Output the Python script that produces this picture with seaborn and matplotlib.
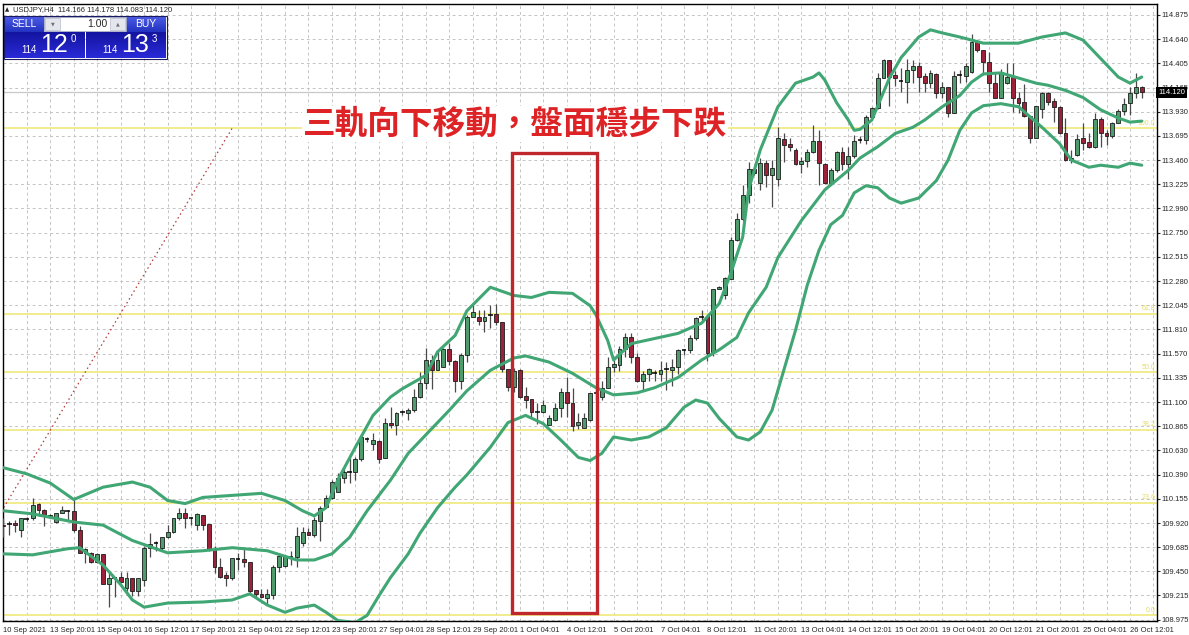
import matplotlib
matplotlib.use("Agg")
import matplotlib.pyplot as plt
import matplotlib.font_manager as fm
from matplotlib.patches import Rectangle
from matplotlib.colors import to_rgb
import seaborn as sns
import numpy as np

# USDJPY H4 candles (bar 0 = 10 Sep 2021)
opens = [109.90, 109.91, 109.92, 109.85, 109.96, 109.97, 110.11, 110.05, 109.99, 109.93,
         110.02, 110.04, 110.04, 109.85, 109.63, 109.63, 109.54, 109.62, 109.33, 109.38,
         109.39, 109.29, 109.38, 109.26, 109.36, 109.68, 109.73, 109.68, 109.78, 109.83,
         109.97, 110.02, 109.97, 109.90, 110.00, 109.91, 109.66, 109.49, 109.41, 109.38,
         109.57, 109.57, 109.54, 109.27, 109.23, 109.19, 109.22, 109.49, 109.50, 109.59,
         109.59, 109.73, 109.83, 109.80, 109.94, 110.08, 110.16, 110.22, 110.36, 110.42,
         110.42, 110.54, 110.74, 110.69, 110.72, 110.55, 110.90, 110.88, 111.00, 110.99,
         111.02, 111.15, 111.29, 111.51, 111.41, 111.44, 111.62, 111.50, 111.31, 111.56,
         111.93, 111.93, 111.89, 111.95, 111.96, 111.88, 111.42, 111.25, 111.41, 111.16,
         111.13, 111.00, 111.00, 110.88, 110.93, 111.04, 111.20, 111.09, 110.88, 110.85,
         110.93, 111.19, 111.15, 111.24, 111.44, 111.46, 111.62, 111.73, 111.54, 111.31,
         111.37, 111.38, 111.37, 111.42, 111.41, 111.44, 111.61, 111.61, 111.72, 111.93,
         111.94, 111.59, 112.20, 112.14, 112.30, 112.68, 112.89, 113.12, 113.37, 113.24,
         113.43, 113.31, 113.28, 113.67, 113.62, 113.56, 113.42, 113.45, 113.54, 113.65,
         113.42, 113.24, 113.36, 113.54, 113.42, 113.50, 113.66, 113.66, 113.88, 113.97,
         114.26, 114.44, 114.29, 114.23, 114.22, 114.34, 114.38, 114.28, 114.21, 114.30,
         114.11, 114.17, 113.92, 114.29, 114.28, 114.32, 114.61, 114.53, 114.42, 114.21,
         114.07, 114.21, 114.27, 114.07, 114.03, 113.89, 113.68, 113.96, 114.11, 114.04,
         113.98, 113.72, 113.46, 113.51, 113.68, 113.64, 113.59, 113.86, 113.72, 113.69,
         113.82, 113.94, 114.02, 114.11, 114.17]
highs = [109.97, 109.94, 109.95, 109.97, 109.98, 110.16, 110.12, 110.06, 110.01, 110.02,
         110.09, 110.05, 110.15, 109.89, 109.68, 109.64, 109.63, 109.62, 109.44, 109.39,
         109.44, 109.44, 109.38, 109.38, 109.70, 109.82, 109.75, 109.78, 109.90, 109.97,
         110.07, 110.07, 109.98, 110.02, 110.00, 109.91, 109.70, 109.58, 109.44, 109.58,
         109.63, 109.68, 109.54, 109.27, 109.28, 109.28, 109.51, 109.61, 109.61, 109.65,
         109.88, 109.88, 109.87, 109.98, 110.09, 110.19, 110.34, 110.41, 110.45, 110.55,
         110.56, 110.78, 110.76, 110.80, 110.73, 110.94, 111.05, 111.00, 111.02, 111.04,
         111.23, 111.39, 111.63, 111.56, 111.61, 111.63, 111.68, 111.51, 111.58, 111.95,
         112.05, 112.00, 112.00, 112.05, 112.06, 111.88, 111.42, 111.43, 111.42, 111.25,
         111.13, 111.09, 111.12, 110.97, 111.09, 111.24, 111.34, 111.24, 110.99, 110.99,
         111.19, 111.22, 111.31, 111.54, 111.51, 111.65, 111.77, 111.77, 111.58, 111.40,
         111.43, 111.41, 111.50, 111.49, 111.52, 111.62, 111.62, 111.75, 111.93, 112.00,
         111.94, 112.20, 112.23, 112.32, 112.71, 112.94, 113.22, 113.44, 113.39, 113.48,
         113.46, 113.46, 113.78, 113.72, 113.68, 113.58, 113.49, 113.57, 113.80, 113.75,
         113.43, 113.38, 113.55, 113.59, 113.59, 113.70, 113.69, 113.90, 113.98, 114.31,
         114.45, 114.44, 114.33, 114.36, 114.45, 114.44, 114.42, 114.31, 114.34, 114.31,
         114.22, 114.17, 114.33, 114.34, 114.41, 114.69, 114.63, 114.53, 114.51, 114.32,
         114.35, 114.41, 114.41, 114.12, 114.20, 113.89, 113.99, 114.12, 114.12, 114.07,
         113.99, 113.87, 113.56, 113.71, 113.82, 113.72, 113.92, 113.88, 113.75, 113.83,
         113.96, 114.07, 114.17, 114.31, 114.18]
lows = [109.78, 109.80, 109.83, 109.78, 109.94, 109.95, 109.99, 109.89, 109.97, 109.92,
        110.02, 109.94, 109.83, 109.63, 109.53, 109.53, 109.53, 109.33, 109.10, 109.20,
        109.35, 109.26, 109.21, 109.21, 109.31, 109.59, 109.65, 109.65, 109.77, 109.82,
        109.95, 109.87, 109.90, 109.85, 109.85, 109.65, 109.43, 109.38, 109.31, 109.36,
        109.46, 109.49, 109.24, 109.19, 109.19, 109.12, 109.18, 109.44, 109.49, 109.51,
        109.49, 109.70, 109.80, 109.78, 109.75, 110.07, 110.15, 110.22, 110.31, 110.31,
        110.34, 110.53, 110.71, 110.63, 110.51, 110.55, 110.85, 110.78, 110.97, 110.93,
        111.00, 111.14, 111.23, 111.23, 111.41, 111.44, 111.46, 111.20, 111.23, 111.49,
        111.93, 111.85, 111.78, 111.82, 111.85, 111.39, 111.21, 111.20, 111.14, 111.04,
        110.95, 110.89, 110.99, 110.88, 110.92, 110.95, 110.95, 110.82, 110.84, 110.85,
        110.92, 111.12, 111.12, 111.24, 111.39, 111.40, 111.54, 111.48, 111.30, 111.22,
        111.31, 111.31, 111.31, 111.22, 111.26, 111.37, 111.56, 111.58, 111.71, 111.90,
        111.50, 111.55, 112.20, 112.11, 112.30, 112.67, 112.87, 113.04, 113.31, 113.17,
        113.20, 113.00, 113.21, 113.44, 113.55, 113.41, 113.33, 113.39, 113.53, 113.22,
        113.23, 113.22, 113.34, 113.36, 113.28, 113.48, 113.63, 113.62, 113.86, 113.96,
        114.26, 113.99, 114.18, 114.12, 114.02, 114.21, 114.12, 114.12, 114.16, 114.07,
        114.07, 113.88, 113.92, 114.21, 114.22, 114.31, 114.51, 114.29, 114.12, 114.07,
        114.07, 114.20, 113.93, 113.92, 113.88, 113.63, 113.68, 113.87, 114.00, 113.83,
        113.71, 113.45, 113.43, 113.50, 113.56, 113.58, 113.58, 113.59, 113.61, 113.68,
        113.82, 113.90, 113.90, 114.07, 114.07]
closes = [109.89, 109.91, 109.90, 109.97, 109.96, 110.10, 110.05, 110.00, 109.99, 110.02,
          110.05, 110.04, 109.85, 109.63, 109.67, 109.54, 109.62, 109.33, 109.38, 109.38,
          109.35, 109.38, 109.26, 109.38, 109.68, 109.72, 109.73, 109.78, 109.83, 109.97,
          110.02, 109.97, 109.97, 110.01, 109.90, 109.66, 109.49, 109.39, 109.38, 109.58,
          109.57, 109.54, 109.26, 109.23, 109.20, 109.23, 109.49, 109.60, 109.60, 109.59,
          109.79, 109.83, 109.80, 109.95, 110.07, 110.16, 110.32, 110.36, 110.42, 110.42,
          110.54, 110.76, 110.74, 110.73, 110.54, 110.90, 110.88, 110.99, 111.00, 111.02,
          111.15, 111.29, 111.51, 111.41, 111.51, 111.62, 111.50, 111.31, 111.56, 111.93,
          111.98, 111.89, 111.93, 111.95, 111.88, 111.42, 111.25, 111.40, 111.15, 111.12,
          111.00, 111.00, 111.07, 110.94, 111.04, 111.20, 111.09, 110.87, 110.91, 110.94,
          111.19, 111.20, 111.24, 111.44, 111.47, 111.62, 111.73, 111.54, 111.31, 111.37,
          111.42, 111.38, 111.41, 111.42, 111.44, 111.61, 111.61, 111.72, 111.92, 111.93,
          111.58, 112.20, 112.22, 112.31, 112.68, 112.89, 113.12, 113.37, 113.33, 113.43,
          113.31, 113.38, 113.68, 113.61, 113.59, 113.42, 113.45, 113.54, 113.65, 113.43,
          113.24, 113.36, 113.54, 113.42, 113.50, 113.65, 113.66, 113.88, 113.97, 114.26,
          114.44, 114.27, 114.26, 114.23, 114.34, 114.38, 114.27, 114.21, 114.31, 114.11,
          114.17, 113.92, 114.28, 114.29, 114.38, 114.61, 114.53, 114.42, 114.21, 114.07,
          114.32, 114.27, 114.07, 114.02, 113.89, 113.68, 113.99, 114.11, 114.03, 113.98,
          113.72, 113.46, 113.48, 113.67, 113.63, 113.59, 113.86, 113.72, 113.69, 113.82,
          113.94, 114.01, 114.11, 114.17, 114.12]

# Bollinger bands, read at bar positions
upper_idx = [0, 4, 8, 12, 17, 22, 25, 28, 31, 34, 39, 44, 48, 51, 53, 55, 57, 60, 63, 66,
             68, 72, 74, 77, 79, 83, 87, 90, 93, 97, 100, 101, 103, 104, 107, 111, 115, 119, 122, 124,
             126, 127, 129, 132, 135, 138, 139, 140, 142, 144, 145, 146, 148, 151, 153, 156, 158, 160,
             163, 167, 173, 177, 181, 184, 187, 190, 192, 193, 194]
upper_val = [110.46, 110.40, 110.31, 110.15, 110.27, 110.32, 110.27, 110.14, 110.11, 110.17,
             110.19, 110.21, 110.14, 110.04, 109.99, 110.07, 110.34, 110.66, 110.97, 111.15,
             111.23, 111.36, 111.59, 111.75, 111.99, 112.22, 112.14, 112.12, 112.17, 112.16,
             112.04, 111.95, 111.70, 111.51, 111.67, 111.72, 111.77, 111.87, 112.06, 112.36,
             112.71, 113.17, 113.56, 113.98, 114.21, 114.27, 114.31, 114.24, 114.02, 113.85,
             113.75, 113.76, 113.85, 114.26, 114.46, 114.66, 114.73, 114.70, 114.66, 114.60,
             114.60, 114.66, 114.70, 114.63, 114.45, 114.27, 114.21, 114.24, 114.27]
mid_idx = [0, 5, 12, 17, 22, 28, 34, 39, 45, 50, 53, 56, 59, 62, 66, 69, 73, 76, 79, 83,
           87, 89, 93, 97, 101, 104, 108, 111, 115, 119, 122, 125, 127, 130, 132, 136, 140, 144, 146, 149,
           152, 155, 157, 160, 163, 165, 167, 170, 173, 176, 178, 181, 184, 187, 190, 192, 194]
mid_val = [110.04, 110.01, 109.93, 109.90, 109.75, 109.63, 109.65, 109.68, 109.65, 109.56,
           109.56, 109.62, 109.78, 110.04, 110.34, 110.60, 110.84, 111.02, 111.21, 111.41,
           111.53, 111.55, 111.49, 111.38, 111.24, 111.17, 111.19, 111.24, 111.34, 111.51,
           111.61, 111.73, 111.97, 112.22, 112.51, 112.87, 113.17, 113.36, 113.48, 113.59,
           113.72, 113.78, 113.85, 113.98, 114.09, 114.22, 114.30, 114.31, 114.26, 114.21,
           114.19, 114.14, 114.07, 113.95, 113.87, 113.83, 113.84]
lower_idx = [0, 5, 11, 13, 17, 20, 22, 24, 28, 34, 39, 42, 45, 48, 50, 53, 55, 57, 60, 62,
             64, 66, 69, 71, 74, 77, 79, 83, 86, 89, 92, 95, 98, 100, 102, 104, 107, 110, 113, 116,
             118, 120, 122, 125, 127, 129, 131, 133, 135, 137, 139, 141, 143, 145, 147, 149, 151, 153,
             156, 159, 161, 163, 165, 167, 170, 173, 177, 180, 182, 185, 187, 190, 192, 194]
lower_val = [109.62, 109.61, 109.67, 109.68, 109.51, 109.32, 109.17, 109.10, 109.14, 109.15,
             109.17, 109.23, 109.12, 109.05, 109.09, 109.12, 109.05, 108.97, 108.95, 109.02,
             109.21, 109.39, 109.62, 109.82, 110.07, 110.27, 110.39, 110.66, 110.90, 110.97,
             110.89, 110.73, 110.56, 110.53, 110.60, 110.76, 110.73, 110.76, 110.85, 111.05,
             111.12, 111.09, 110.94, 110.76, 110.73, 110.81, 111.02, 111.41, 111.80, 112.24,
             112.58, 112.83, 112.92, 113.14, 113.21, 113.19, 113.09, 113.04, 113.09, 113.26,
             113.46, 113.75, 113.92, 113.99, 114.01, 113.98, 113.78, 113.62, 113.46, 113.39,
             113.41, 113.39, 113.43, 113.41]

# Fibonacci retracement
fib_levels = [109.02, 110.12, 110.83, 111.39, 111.96, 113.77]
fib_names = ["0.0", "23.6", "38.2", "50.0", "61.8", "100.0"]
fib_bars = [-11, 39]
fib_prices = [109.02, 113.77]

price_ticks = [108.975, 109.215, 109.450, 109.685, 109.920, 110.155, 110.390, 110.630,
               110.865, 111.100, 111.335, 111.570, 111.810, 112.045, 112.280, 112.515,
               112.750, 112.990, 113.225, 113.460, 113.695, 113.930, 114.165, 114.405,
               114.640, 114.875]
date_labels = ["10 Sep 2021", "13 Sep 20:01", "15 Sep 04:01", "16 Sep 12:01", "17 Sep 20:01",
               "21 Sep 04:01", "22 Sep 12:01", "23 Sep 20:01", "27 Sep 04:01", "28 Sep 12:01",
               "29 Sep 20:01", "1 Oct 04:01", "4 Oct 12:01", "5 Oct 20:01", "7 Oct 04:01",
               "8 Oct 12:01", "11 Oct 20:01", "13 Oct 04:01", "14 Oct 12:01", "15 Oct 20:01",
               "19 Oct 04:01", "20 Oct 12:01", "21 Oct 20:01", "25 Oct 04:01", "26 Oct 12:01"]
last_price = 114.120
box_bars = [86.7, 101.2]
box_prices = [109.04, 113.53]
title = "三軌向下移動，盤面穩步下跌"
title_bar, title_price = 87.2, 113.81

sns.set_style("white")
# pick a narrow face for the terminal-style small labels if one is installed
installed = {f.name for f in fm.fontManager.ttflist}
narrow = next((n for n in ['Liberation Sans Narrow', 'DejaVu Sans Condensed', 'Arial Narrow']
               if n in installed), None)
if narrow:
    plt.rcParams['font.family'] = [narrow, 'DejaVu Sans']
    small = 6.4
else:
    plt.rcParams['font.family'] = ['Liberation Sans', 'DejaVu Sans']
    small = 5.5

W, H = 1189, 635
fig = plt.figure(figsize=(W / 100, H / 100), dpi=100)
ax = fig.add_axes([3 / W, 1 - 621 / H, (1157 - 3) / W, (621 - 4) / H])
ax.set_xlim(-0.05, 196.6)
ax.set_ylim(108.965, 114.982)
ax.set_axisbelow(True)

# grid / ticks
ax.set_xticks(np.arange(0, 193, 8))
ax.set_xticks(np.arange(0, 197, 4), minor=True)
ax.set_xticklabels(date_labels, ha='left', fontsize=small)
ax.set_yticks(price_ticks)
ax.set_yticklabels([f"{v:.3f}" for v in price_ticks], fontsize=small)
ax.yaxis.tick_right()
ax.tick_params(axis='x', which='major', length=2.5, pad=1.5, width=0.8)
ax.tick_params(axis='x', which='minor', length=0)
ax.tick_params(axis='y', length=2, pad=1, width=0.8)
gridkw = dict(color='#c4c4c4', linestyle=(0, (3, 3)), linewidth=0.7)
ax.grid(True, axis='x', which='both', **gridkw)
ax.grid(True, axis='y', which='major', **gridkw)
for s in ax.spines.values():
    s.set_color('black')
    s.set_linewidth(1)

# fibo levels
for lvl, name in zip(fib_levels, fib_names):
    ax.axhline(lvl, color='#f1ec8c', lw=1.4, zorder=1)
    ax.text(196.3, lvl + 0.015, name, ha='right', va='bottom', fontsize=small - 0.5,
            color='#e6dc6a', zorder=1)
ax.plot(fib_bars, fib_prices, color='#b33a3a', lw=0.9, ls=(0, (1.2, 2.4)), zorder=1)

# bid line
ax.axhline(last_price, color='#c8c8c8', lw=0.9, zorder=1)

# candles
o, h, l, c = map(np.array, (opens, highs, lows, closes))
x = np.arange(len(o))
up, dn, flat = c > o, c < o, c == o
ax.vlines(x, l, h, color='#4a4a4a', lw=0.9, zorder=3)
ax.bar(x[up], (c - o)[up], bottom=o[up], width=0.66, color='#4f9b6c',
       edgecolor='#1c1c1c', linewidth=0.6, zorder=4)
ax.bar(x[dn], (o - c)[dn], bottom=c[dn], width=0.66, color='#9b2239',
       edgecolor='#1c1c1c', linewidth=0.6, zorder=4)
ax.hlines(o[flat], x[flat] - 0.4, x[flat] + 0.4, color='black', lw=1.1, zorder=4)

# bollinger bands
for bx, by in [(upper_idx, upper_val), (mid_idx, mid_val), (lower_idx, lower_val)]:
    sns.lineplot(x=bx, y=by, ax=ax, color='#40a674', lw=2.2, estimator=None,
                 sort=False, zorder=5)

# highlight box + caption
ax.add_patch(Rectangle((box_bars[0], box_prices[0]), box_bars[1] - box_bars[0],
                       box_prices[1] - box_prices[0], fill=False, edgecolor='#c0272d',
                       lw=2.4, zorder=6))
ax.text(title_bar, title_price, title, ha='center', va='center',
        fontsize=23.5, fontweight='bold', color='#dd2326',
        family=['Noto Sans CJK TC', 'DejaVu Sans'], zorder=7,
        bbox=dict(facecolor='white', edgecolor='none', pad=1))

# price box on the axis
ax.text(1.001, last_price, f"{last_price:.3f}", transform=ax.get_yaxis_transform(),
        ha='left', va='center', fontsize=small, color='white', zorder=8, clip_on=False,
        bbox=dict(facecolor='black', edgecolor='none', pad=1.2))

# one-click trading panel (top-left)
pax = fig.add_axes([0, 0, 1, 1], zorder=10)
pax.set_xlim(0, W)
pax.set_ylim(H, 0)
pax.axis('off')
pax.patch.set_alpha(0)


def grad(x0, y0, w, hgt, top, bot):
    t = np.linspace(0, 1, 32)[:, None]
    img = (1 - t) * np.array(to_rgb(top)) + t * np.array(to_rgb(bot))
    pax.imshow(img[:, None, :].repeat(2, axis=1), extent=(x0, x0 + w, y0 + hgt, y0),
               aspect='auto', zorder=1)


pax.text(7, 9.5, "▲", fontsize=4, ha='center', va='center', family=['DejaVu Sans'])
pax.text(13, 9.5, "USDJPY,H4  114.166 114.178 114.083 114.120", fontsize=small,
         ha='left', va='center')
grad(4, 16, 40, 16, '#4d5ee6', '#2432c0')
grad(126, 16, 40, 16, '#4d5ee6', '#2432c0')
pax.add_patch(Rectangle((44, 17), 82, 14, facecolor='white', edgecolor='#9da3c0', lw=0.6, zorder=2))
pax.add_patch(Rectangle((45, 18), 15, 12, facecolor='#e4e6ee', edgecolor='#b8bccc', lw=0.5, zorder=3))
pax.add_patch(Rectangle((110, 18), 15, 12, facecolor='#e4e6ee', edgecolor='#b8bccc', lw=0.5, zorder=3))
pax.text(52.5, 24, "▼", fontsize=3.5, ha='center', va='center', color='#707070',
         family=['DejaVu Sans'], zorder=4)
pax.text(117.5, 24, "▲", fontsize=3.5, ha='center', va='center', color='#707070',
         family=['DejaVu Sans'], zorder=4)
pax.text(107, 24, "1.00", fontsize=7.5, ha='right', va='center', zorder=4)
pax.text(24, 24, "SELL", fontsize=7.5, ha='center', va='center', color='white', zorder=4)
pax.text(146, 24, "BUY", fontsize=7.5, ha='center', va='center', color='white', zorder=4)
grad(4, 32, 81, 26, '#1414a0', '#2a2ad8')
grad(86, 32, 80, 26, '#1414a0', '#2a2ad8')
for cx, big, sup in [(29, "12", "0"), (110, "13", "3")]:
    pax.text(cx, 50, "114", fontsize=7, ha='center', va='center', color='white', zorder=4)
    pax.text(cx + 11, 45, big, fontsize=18, ha='left', va='center', color='white', zorder=4)
    pax.text(cx + 44, 39, sup, fontsize=7, ha='center', va='center', color='white', zorder=4)
pax.add_patch(Rectangle((3.5, 15.5), 163, 43, fill=False, edgecolor='#1a1a60', lw=0.8, zorder=5))

fig.savefig("out.png", dpi=100)
